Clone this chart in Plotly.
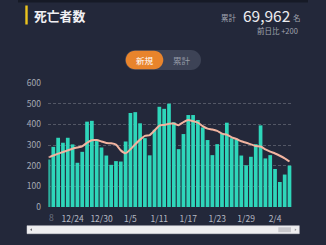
import plotly.graph_objects as go

# ---- data ----
dates = ["12/19","12/20","12/21","12/22","12/23","12/24","12/25","12/26","12/27","12/28",
         "12/29","12/30","12/31","1/1","1/2","1/3","1/4","1/5","1/6","1/7",
         "1/8","1/9","1/10","1/11","1/12","1/13","1/14","1/15","1/16","1/17",
         "1/18","1/19","1/20","1/21","1/22","1/23","1/24","1/25","1/26","1/27",
         "1/28","1/29","1/30","1/31","2/1","2/2","2/3","2/4","2/5","2/6","2/7"]
deaths = [230,291,335,311,335,303,214,267,413,417,
          319,288,249,204,222,220,317,455,459,405,
          333,250,374,485,475,500,410,280,353,445,
          445,421,385,324,251,304,356,408,333,327,
          249,202,243,304,395,235,251,184,121,157,200]
avg7 = [240,249,258,266,274,282,288,294,311,323,
        324,317,310,308,302,274,260,279,304,326,
        344,348,370,394,397,403,404,396,411,421,
        415,408,391,379,375,368,355,350,337,329,
        318,311,303,295,293,279,268,259,248,235,220]
tick_labels = ["12/24","12/30","1/5","1/11","1/17","1/23","1/29","2/4"]
y_ticks = [0,100,200,300,400,500,600]

BG = "rgb(35,40,58)"
FONT = "Noto Sans CJK JP"

# plot area in pixels
L, R, T, B = 48, 292, 83, 207
W, H = 326, 245

def px(x):
    return (x - L) / (R - L)

def py(y):
    return (B - y) / (B - T)

def rpath(x0, y0, x1, y1, r):
    k = 0.5523 * r
    def P(x, y):
        return f"{px(x):.5f},{py(y):.5f}"
    s = f"M{P(x0+r,y0)} L{P(x1-r,y0)} "
    s += f"C{P(x1-r+k,y0)} {P(x1,y0+r-k)} {P(x1,y0+r)} "
    s += f"L{P(x1,y1-r)} "
    s += f"C{P(x1,y1-r+k)} {P(x1-r+k,y1)} {P(x1-r,y1)} "
    s += f"L{P(x0+r,y1)} "
    s += f"C{P(x0+r-k,y1)} {P(x0,y1-r+k)} {P(x0,y1-r)} "
    s += f"L{P(x0,y0+r)} "
    s += f"C{P(x0,y0+r-k)} {P(x0+r-k,y0)} {P(x0+r,y0)} Z"
    return s

xi = list(range(len(dates)))
tick_idx = [dates.index(t) for t in tick_labels]

fig = go.Figure()
fig.add_trace(go.Bar(x=xi, y=deaths, marker=dict(color="rgb(46,214,186)", line=dict(width=0)),
                     hoverinfo="skip"))
fig.add_trace(go.Scatter(x=xi, y=avg7, mode="lines",
                         line=dict(color="rgb(242,180,160)", width=2, shape="spline", smoothing=0.5),
                         hoverinfo="skip"))

shapes = []
shapes.append(dict(type="rect", xref="paper", yref="paper", x0=px(18), x1=px(308), y0=py(0), y1=py(2.5),
                   fillcolor="rgb(22,26,38)", line=dict(width=0), layer="below"))
shapes.append(dict(type="rect", xref="paper", yref="paper", x0=px(25.3), x1=px(27.7), y0=py(5.5), y1=py(24.5),
                   fillcolor="rgb(236,196,30)", line=dict(width=0)))
shapes.append(dict(type="path", xref="paper", yref="paper", path=rpath(125, 50, 201, 70, 10),
                   fillcolor="rgb(61,67,86)", line=dict(width=0)))
shapes.append(dict(type="path", xref="paper", yref="paper", path=rpath(125.7, 50.7, 163.3, 69.3, 9.3),
                   fillcolor="rgb(232,132,44)", line=dict(width=0)))
shapes.append(dict(type="rect", xref="paper", yref="paper", x0=px(27), x1=px(299.3), y0=py(225.7), y1=py(233.7),
                   fillcolor="rgb(238,238,240)", line=dict(color="rgb(215,215,220)", width=0.5)))
shapes.append(dict(type="rect", xref="paper", yref="paper", x0=px(278.3), x1=px(291), y0=py(227.3), y1=py(232.2),
                   fillcolor="rgb(200,200,204)", line=dict(width=0)))
shapes.append(dict(type="path", xref="paper", yref="paper",
                   path=f"M{px(30):.5f},{py(229.7):.5f} L{px(32):.5f},{py(228.3):.5f} L{px(32):.5f},{py(231.1):.5f} Z",
                   fillcolor="rgb(110,110,115)", line=dict(width=0)))
shapes.append(dict(type="path", xref="paper", yref="paper",
                   path=f"M{px(296.5):.5f},{py(229.7):.5f} L{px(294.8):.5f},{py(228.5):.5f} L{px(294.8):.5f},{py(230.9):.5f} Z",
                   fillcolor="rgb(150,150,155)", line=dict(width=0)))
shapes.append(dict(type="rect", xref="paper", yref="paper", x0=px(47), x1=px(49.5), y0=0, y1=py(150),
                   fillcolor=BG, opacity=0.45, line=dict(width=0), layer="above"))

ann = []
def text(x, y, s, size, color, xanchor="left", bold=False):
    ann.append(dict(xref="paper", yref="paper", x=px(x), y=py(y), text=(f"<b>{s}</b>" if bold else s),
                    showarrow=False, xanchor=xanchor, yanchor="middle",
                    font=dict(family=FONT, size=size, color=color)))

text(31.5, 15, "死亡者数", 12.8, "rgb(240,240,244)", bold=True)
text(238.5, 17.3, "累計", 7.5, "rgb(160,164,175)", xanchor="right")
text(241, 15, "69,962", 15.5, "rgb(236,237,240)")
text(290.5, 17.3, "名", 7.5, "rgb(160,164,175)")
text(300, 30.7, "前日比 +200", 7.5, "rgb(160,164,175)", xanchor="right")
text(145, 60, "新規", 8.5, "rgb(255,255,255)", xanchor="center")
text(181.5, 60, "累計", 8.5, "rgb(150,155,168)", xanchor="center")
text(51.8, 216.8, "8", 8.5, "rgb(110,115,130)", xanchor="center")

fig.update_layout(
    width=W, height=H,
    margin=dict(l=L, r=W - R, t=T, b=H - B, pad=0),
    paper_bgcolor=BG, plot_bgcolor=BG,
    showlegend=False, bargap=0.23,
    font=dict(family=FONT, color="rgb(165,169,180)", size=8.5),
    shapes=shapes, annotations=ann,
    xaxis=dict(range=[-0.1, 50.52], tickmode="array", tickvals=tick_idx, ticktext=tick_labels,
               showgrid=False, zeroline=False, showline=False, ticks="", ticklabelstandoff=5,
               tickfont=dict(family=FONT, size=8.5, color="rgb(182,186,196)"), fixedrange=True),
    yaxis=dict(range=[0, 600], tickmode="array", tickvals=y_ticks, showgrid=True,
               gridcolor="rgba(255,255,255,0.22)", griddash="3px,2px", gridwidth=1,
               zeroline=False, showline=False, ticks="", ticklabelstandoff=6,
               tickfont=dict(family=FONT, size=8.5, color="rgb(165,169,180)"), fixedrange=True),
)

fig.write_html("out.html", config={"displayModeBar": False})
